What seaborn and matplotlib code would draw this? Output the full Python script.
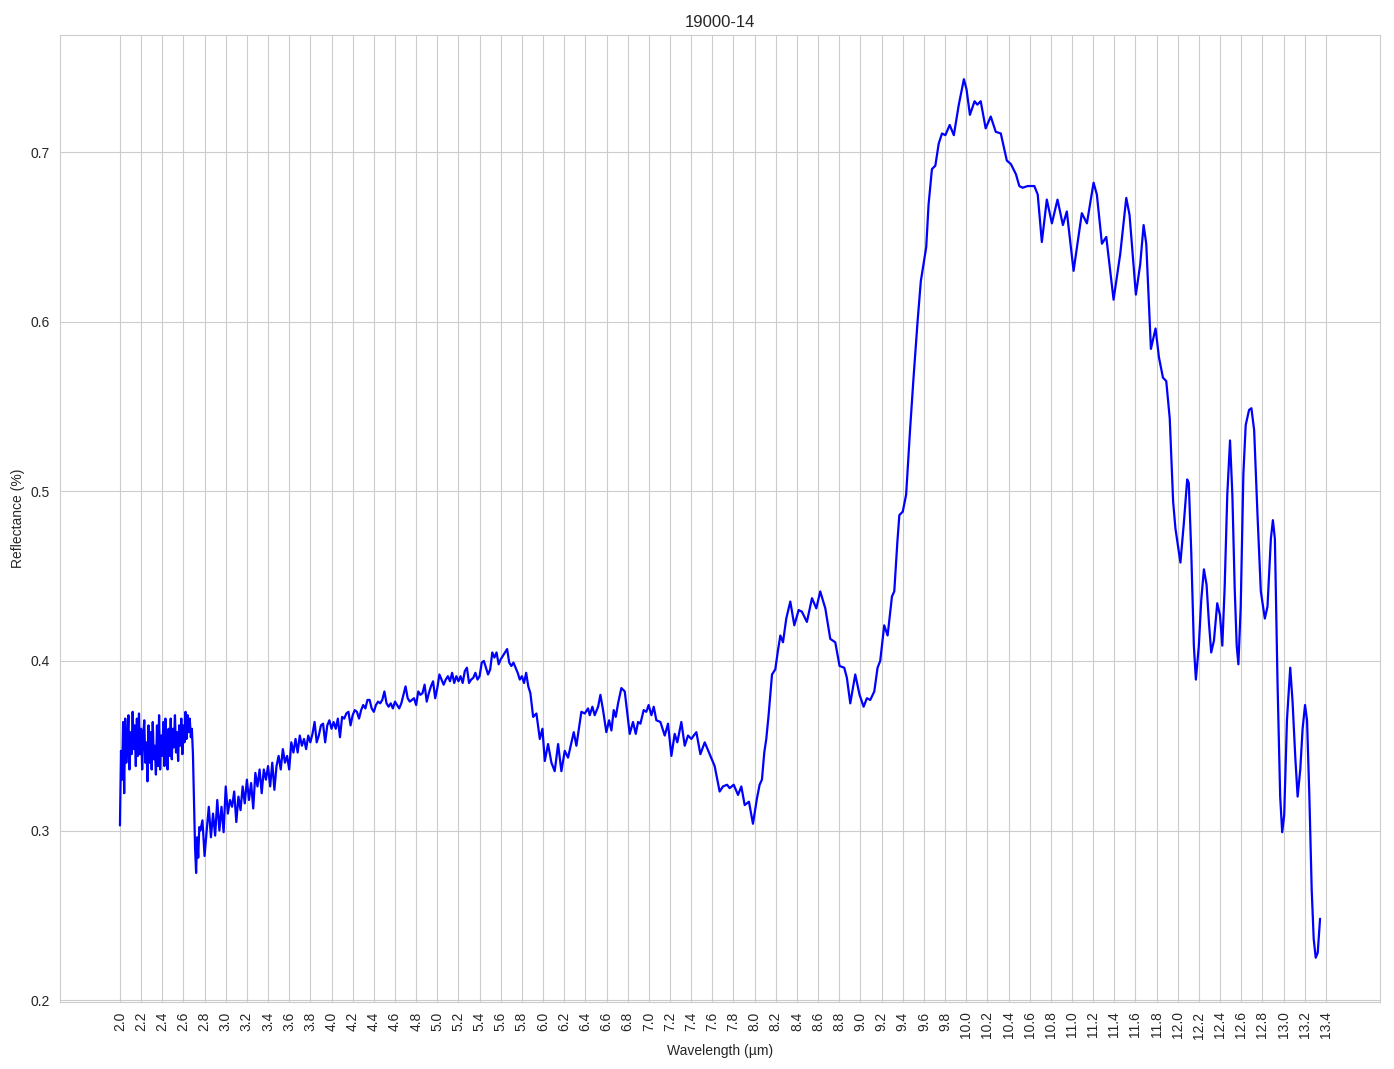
#!/usr/bin/env python

import numpy as np
import pandas as pd
import matplotlib
matplotlib.use("Agg")
import matplotlib.pyplot as plt
import seaborn as sns

# noisy start of the spectrum (step 0.01 um)
wl_a = [2.00, 2.01, 2.02, 2.03, 2.04, 2.05, 2.06, 2.07, 2.08, 2.09,
        2.10, 2.11, 2.12, 2.13, 2.14, 2.15, 2.16, 2.17, 2.18, 2.19,
        2.20, 2.21, 2.22, 2.23, 2.24, 2.25, 2.26, 2.27, 2.28, 2.29,
        2.30, 2.31, 2.32, 2.33, 2.34, 2.35, 2.36, 2.37, 2.38, 2.39,
        2.40, 2.41, 2.42, 2.43, 2.44, 2.45, 2.46, 2.47, 2.48, 2.49,
        2.50, 2.51, 2.52, 2.53, 2.54, 2.55, 2.56, 2.57, 2.58, 2.59,
        2.60, 2.61, 2.62, 2.63, 2.64, 2.65, 2.66, 2.67, 2.68, 2.69,
        2.70, 2.71, 2.72, 2.73, 2.74, 2.75]
refl_a = [0.303, 0.347, 0.330, 0.364, 0.322, 0.366, 0.340, 0.352, 0.368, 0.336,
          0.358, 0.345, 0.370, 0.348, 0.362, 0.338, 0.366, 0.344, 0.369, 0.345,
          0.360, 0.336, 0.356, 0.365, 0.340, 0.352, 0.329, 0.362, 0.340, 0.358,
          0.336, 0.364, 0.342, 0.350, 0.333, 0.362, 0.338, 0.368, 0.336, 0.356,
          0.344, 0.364, 0.338, 0.366, 0.348, 0.336, 0.360, 0.344, 0.366, 0.342,
          0.360, 0.349, 0.368, 0.346, 0.358, 0.341, 0.362, 0.350, 0.366, 0.345,
          0.362, 0.352, 0.370, 0.354, 0.368, 0.358, 0.366, 0.355, 0.360, 0.345,
          0.318, 0.290, 0.275, 0.296, 0.284, 0.302]

# rising noisy part (step 0.02 um)
wl_b = [2.76, 2.78, 2.80, 2.82, 2.84, 2.86, 2.88, 2.90, 2.92, 2.94,
        2.96, 2.98, 3.00, 3.02, 3.04, 3.06, 3.08, 3.10, 3.12, 3.14,
        3.16, 3.18, 3.20, 3.22, 3.24, 3.26, 3.28, 3.30, 3.32, 3.34,
        3.36, 3.38, 3.40, 3.42, 3.44, 3.46, 3.48, 3.50, 3.52, 3.54,
        3.56, 3.58, 3.60, 3.62, 3.64, 3.66, 3.68, 3.70, 3.72, 3.74,
        3.76, 3.78, 3.80, 3.82, 3.84, 3.86, 3.88, 3.90, 3.92, 3.94,
        3.96, 3.98, 4.00, 4.02, 4.04, 4.06, 4.08, 4.10, 4.12, 4.14,
        4.16, 4.18, 4.20, 4.22, 4.24, 4.26, 4.28, 4.30, 4.32, 4.34,
        4.36, 4.38, 4.40, 4.42, 4.44, 4.46, 4.48, 4.50, 4.52, 4.54,
        4.56, 4.58, 4.60, 4.62, 4.64, 4.66, 4.68, 4.70, 4.72, 4.74,
        4.76, 4.78, 4.80, 4.82, 4.84, 4.86, 4.88, 4.90, 4.92, 4.94,
        4.96, 4.98, 5.00, 5.02, 5.04, 5.06, 5.08, 5.10, 5.12, 5.14,
        5.16, 5.18, 5.20, 5.22, 5.24, 5.26, 5.28, 5.30, 5.32, 5.34,
        5.36, 5.38, 5.40, 5.42, 5.44, 5.46, 5.48, 5.50, 5.52, 5.54,
        5.56, 5.58, 5.60, 5.62, 5.64, 5.66, 5.68, 5.70, 5.72, 5.74,
        5.76, 5.78, 5.80, 5.82, 5.84, 5.86, 5.88]
refl_b = [0.300, 0.306, 0.285, 0.300, 0.314, 0.296, 0.310, 0.297, 0.318, 0.300,
          0.314, 0.299, 0.326, 0.310, 0.318, 0.314, 0.323, 0.305, 0.320, 0.312,
          0.326, 0.316, 0.330, 0.318, 0.328, 0.313, 0.334, 0.326, 0.336, 0.322,
          0.336, 0.330, 0.338, 0.326, 0.340, 0.324, 0.338, 0.344, 0.336, 0.348,
          0.340, 0.344, 0.336, 0.352, 0.346, 0.354, 0.346, 0.356, 0.350, 0.354,
          0.348, 0.356, 0.352, 0.357, 0.364, 0.352, 0.356, 0.362, 0.363, 0.352,
          0.362, 0.365, 0.360, 0.364, 0.360, 0.366, 0.355, 0.367, 0.366, 0.369,
          0.370, 0.362, 0.368, 0.371, 0.370, 0.366, 0.371, 0.374, 0.372, 0.377,
          0.377, 0.372, 0.370, 0.374, 0.376, 0.375, 0.377, 0.382, 0.375, 0.373,
          0.375, 0.372, 0.376, 0.374, 0.372, 0.375, 0.380, 0.385, 0.378, 0.376,
          0.377, 0.378, 0.374, 0.382, 0.380, 0.381, 0.386, 0.376, 0.381, 0.385,
          0.388, 0.378, 0.384, 0.392, 0.389, 0.386, 0.389, 0.391, 0.388, 0.393,
          0.387, 0.391, 0.388, 0.391, 0.387, 0.394, 0.396, 0.387, 0.389, 0.390,
          0.393, 0.389, 0.391, 0.399, 0.400, 0.396, 0.392, 0.395, 0.405, 0.402,
          0.405, 0.398, 0.401, 0.403, 0.405, 0.407, 0.399, 0.397, 0.399, 0.396,
          0.393, 0.389, 0.391, 0.387, 0.393, 0.385, 0.381]

# smoother long-wave part
wl_c = [5.906, 5.937, 5.969, 5.994, 6.016, 6.047, 6.079, 6.110, 6.142, 6.173,
        6.205, 6.236, 6.268, 6.290, 6.315, 6.362, 6.394, 6.425, 6.441, 6.466,
        6.488, 6.520, 6.542, 6.567, 6.598, 6.624, 6.646, 6.668, 6.687, 6.709,
        6.740, 6.772, 6.819, 6.850, 6.876, 6.898, 6.920, 6.951, 6.976, 6.998,
        7.024, 7.046, 7.071, 7.109, 7.150, 7.181, 7.213, 7.244, 7.269, 7.307,
        7.339, 7.370, 7.402, 7.424, 7.449, 7.487, 7.528, 7.575, 7.622, 7.669,
        7.701, 7.739, 7.764, 7.802, 7.843, 7.874, 7.906, 7.946, 7.984,
        8.022, 8.047, 8.069, 8.091, 8.110, 8.132, 8.164, 8.195, 8.220, 8.243,
        8.268, 8.299, 8.337, 8.375, 8.416, 8.447, 8.494, 8.542, 8.583, 8.620,
        8.668, 8.715, 8.762, 8.803, 8.847, 8.872, 8.904, 8.951, 8.992, 9.030,
        9.061, 9.093, 9.131, 9.162, 9.187, 9.225, 9.257, 9.298, 9.320, 9.349,
        9.368, 9.400, 9.432, 9.470, 9.502, 9.540, 9.571, 9.597, 9.622, 9.644,
        9.676, 9.708, 9.740, 9.771, 9.803, 9.844, 9.883, 9.930, 9.978, 10.003,
        10.035, 10.079, 10.105, 10.137, 10.184, 10.232, 10.279, 10.327, 10.384, 10.422,
        10.470, 10.502, 10.533, 10.581, 10.644, 10.676,
        10.715, 10.762, 10.810, 10.863, 10.914, 10.951, 11.015, 11.052, 11.093, 11.141,
        11.204, 11.235, 11.283, 11.324, 11.393, 11.456, 11.513, 11.544, 11.604, 11.645,
        11.677, 11.702, 11.746, 11.790, 11.822, 11.860, 11.891,
        11.924, 11.956, 11.978, 12.025, 12.057, 12.089, 12.104, 12.127, 12.152, 12.171,
        12.199, 12.222, 12.247, 12.272, 12.294, 12.316, 12.342, 12.373, 12.399, 12.421,
        12.443, 12.468, 12.494, 12.516, 12.538, 12.557, 12.573, 12.595, 12.620, 12.642,
        12.674, 12.696, 12.722, 12.753, 12.785, 12.823, 12.848, 12.880, 12.899, 12.918,
        12.943, 12.968, 12.987, 13.006, 13.032, 13.063, 13.085, 13.111, 13.133, 13.158,
        13.180, 13.203, 13.222, 13.244, 13.266, 13.285, 13.304, 13.323, 13.345]
refl_c = [0.367, 0.369, 0.354, 0.360, 0.341, 0.351, 0.340, 0.335, 0.351, 0.335,
          0.347, 0.343, 0.352, 0.358, 0.350, 0.370, 0.369, 0.372, 0.368, 0.373,
          0.368, 0.373, 0.380, 0.371, 0.358, 0.365, 0.359, 0.371, 0.367, 0.375,
          0.384, 0.382, 0.357, 0.364, 0.357, 0.364, 0.363, 0.371, 0.370, 0.374,
          0.368, 0.373, 0.365, 0.364, 0.356, 0.363, 0.344, 0.357, 0.352, 0.364,
          0.350, 0.356, 0.354, 0.356, 0.358, 0.345, 0.352, 0.345, 0.338, 0.323,
          0.326, 0.327, 0.325, 0.327, 0.321, 0.326, 0.315, 0.317, 0.304,
          0.319, 0.327, 0.330, 0.346, 0.354, 0.368, 0.392, 0.395, 0.406, 0.415,
          0.411, 0.425, 0.435, 0.421, 0.430, 0.429, 0.423, 0.437, 0.431, 0.441,
          0.431, 0.413, 0.411, 0.397, 0.396, 0.390, 0.375, 0.392, 0.380, 0.373,
          0.378, 0.377, 0.382, 0.396, 0.400, 0.421, 0.415, 0.438, 0.441, 0.470,
          0.486, 0.488, 0.498, 0.537, 0.567, 0.600, 0.624, 0.634, 0.644, 0.669,
          0.690, 0.692, 0.705, 0.711, 0.710, 0.716, 0.710, 0.728, 0.743, 0.737,
          0.722, 0.730, 0.728, 0.730, 0.714, 0.721, 0.712, 0.711, 0.695, 0.693,
          0.687, 0.680, 0.679, 0.680, 0.680, 0.675,
          0.647, 0.672, 0.658, 0.672, 0.657, 0.665, 0.630, 0.646, 0.664, 0.658,
          0.682, 0.675, 0.646, 0.650, 0.613, 0.640, 0.673, 0.663, 0.616, 0.634,
          0.657, 0.646, 0.584, 0.596, 0.579, 0.567, 0.565,
          0.543, 0.494, 0.478, 0.458, 0.481, 0.507, 0.505, 0.465, 0.409, 0.389,
          0.409, 0.436, 0.454, 0.445, 0.423, 0.405, 0.412, 0.434, 0.427, 0.409,
          0.443, 0.498, 0.530, 0.498, 0.443, 0.409, 0.398, 0.432, 0.510, 0.539,
          0.548, 0.549, 0.536, 0.487, 0.441, 0.425, 0.432, 0.472, 0.483, 0.472,
          0.387, 0.320, 0.299, 0.309, 0.365, 0.396, 0.376, 0.343, 0.320, 0.336,
          0.360, 0.374, 0.365, 0.320, 0.265, 0.236, 0.225, 0.228, 0.248]

x_ticks = [round(2.0 + 0.2 * i, 1) for i in range(58)]


def main():
    df = pd.DataFrame({
        "wavelength": wl_a + wl_b + wl_c,
        "reflectance": refl_a + refl_b + refl_c,
    })

    sns.set_style("whitegrid")
    # Arial-like look; set after set_style since it resets the family
    plt.rcParams['font.family'] = ['Liberation Sans', 'DejaVu Sans']

    fig, ax = plt.subplots(figsize=(13.94, 10.69), dpi=100)

    sns.lineplot(data=df, x="wavelength", y="reflectance", color="blue",
                 linewidth=1.6, sort=False, estimator=None, ax=ax)

    ax.set_xticks(x_ticks)
    ax.set_xticklabels([f"{t:.1f}" for t in x_ticks], rotation=90)

    ax.set_title("19000-14")
    ax.set_xlabel("Wavelength (µm)")
    ax.set_ylabel("Reflectance (%)")

    fig.subplots_adjust(left=0.043, right=0.99, top=0.967, bottom=0.063)
    fig.savefig("out.png", dpi=100)


if __name__ == '__main__':
    main()
